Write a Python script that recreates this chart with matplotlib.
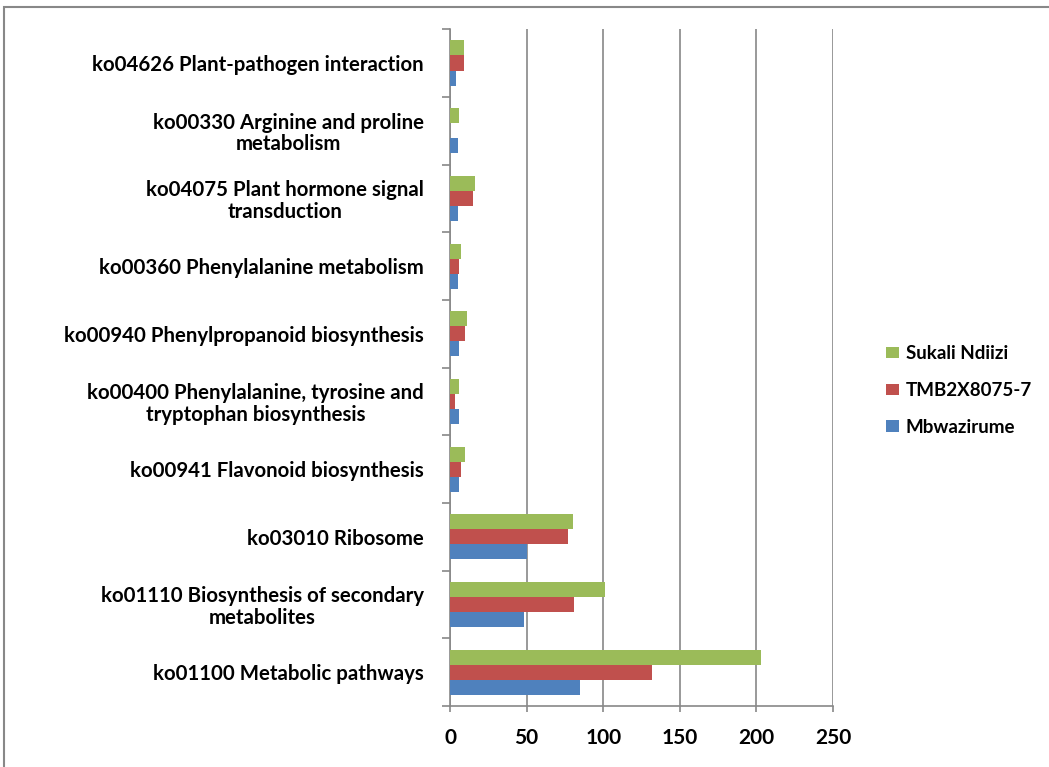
import numpy as np
import matplotlib.pyplot as plt
from matplotlib.patches import Rectangle

# pathways, bottom to top
pathways = [
    'ko01100 Metabolic pathways',
    'ko01110 Biosynthesis of secondary\nmetabolites',
    'ko03010 Ribosome',
    'ko00941 Flavonoid biosynthesis',
    'ko00400 Phenylalanine, tyrosine and\ntryptophan biosynthesis',
    'ko00940 Phenylpropanoid biosynthesis',
    'ko00360 Phenylalanine metabolism',
    'ko04075 Plant hormone signal\ntransduction',
    'ko00330 Arginine and proline\nmetabolism',
    'ko04626 Plant-pathogen interaction',
]
mbwazirume = [85, 48, 50, 6, 6, 6, 5, 5, 5, 4]
tmb2x = [132, 81, 77, 7, 3, 10, 6, 15, 0, 9]
sukali = [203, 101, 80, 10, 6, 11, 7, 16, 6, 9]

plt.rcParams['font.family'] = ['Lato', 'DejaVu Sans']

fig = plt.figure(figsize=(10.49, 7.67), dpi=100)
ax = fig.add_axes([0.429, 0.0795, 0.365, 0.8825])

y = np.arange(len(pathways))
h = 0.222
ax.barh(y - h, mbwazirume, height=h, color='#4F81BD', label='Mbwazirume', zorder=3)
ax.barh(y, tmb2x, height=h, color='#C0504D', label='TMB2X8075-7', zorder=3)
ax.barh(y + h, sukali, height=h, color='#9BBB59', label='Sukali Ndiizi', zorder=3)

ax.set_xlim(0, 250)
ax.set_ylim(-0.5, len(pathways) - 0.5)
ax.set_xticks(np.arange(0, 251, 50))
ax.set_yticks(y)
ax.set_yticklabels(pathways, fontsize=14.7, fontweight='bold', multialignment='center',
                   linespacing=1.1)
ax.set_yticks(np.arange(-0.5, len(pathways), 1), minor=True)
ax.tick_params(axis='y', which='major', length=0, pad=19)
ax.tick_params(axis='y', which='minor', length=6, width=1.2, color='#888888', direction='out')
ax.tick_params(axis='x', length=4, width=1.2, color='#888888', pad=12, labelsize=15)
for t in ax.get_xticklabels():
    t.set_fontweight('bold')

ax.grid(axis='x', color='#888888', linewidth=1.2, zorder=0)
for s in ['top', 'right']:
    ax.spines[s].set_visible(False)
for s in ['left', 'bottom']:
    ax.spines[s].set_color('#888888')
    ax.spines[s].set_linewidth(1.2)

handles, labels = ax.get_legend_handles_labels()
leg = fig.legend(handles[::-1], labels[::-1], loc='center left', bbox_to_anchor=(0.829, 0.491),
                 frameon=False, prop={'size': 13.5, 'weight': 'bold'},
                 handlelength=0.68, handleheight=0.55,
                 handletextpad=0.35, labelspacing=1.05)

fig.patches.append(Rectangle((4 / 1049, -0.01), 1.0, 1 - 7 / 767 + 0.01, transform=fig.transFigure,
                             fill=False, edgecolor='#888888', linewidth=1.5))

fig.savefig('out.png', dpi=100)
